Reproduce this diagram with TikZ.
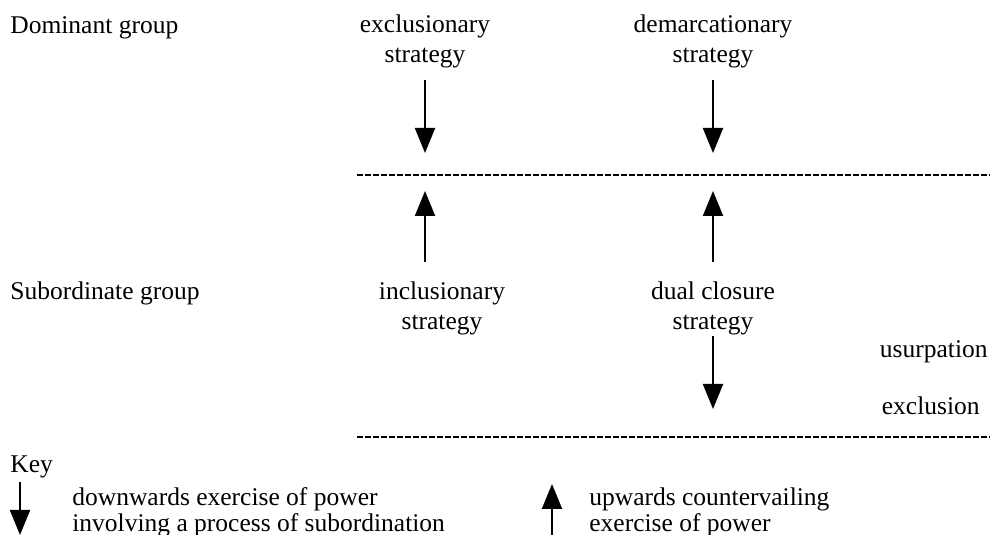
\documentclass[tikz,border=0pt]{standalone}
\usepackage{fontspec}
\setmainfont{Liberation Serif}
\usetikzlibrary{arrows.meta}
\begin{document}
\begin{tikzpicture}[x=0.5pt,y=-0.5pt,
  txt/.style={inner sep=0pt,font=\fontsize{12.75}{15}\selectfont},
  lbl/.style={txt,align=center,anchor=base},
  keytxt/.style={inner sep=0pt,font=\fontsize{12.75}{12.75}\selectfont,align=left,anchor=base west},
  powerline/.style={line width=1pt,-{Triangle[length=12.5pt,width=10pt]}},
  boundary/.style={line width=0.7pt,dash pattern=on 2.75pt off 1.25pt}]
\useasboundingbox (0,0) rectangle (993,535);

% group labels
\node[txt,anchor=base west] (dom) at (10,34) {Dominant group};
\node[txt,anchor=base west] (sub) at (10,300) {Subordinate group};

% strategy labels (anchored at the baseline of their last line)
\node[lbl] (excl) at (425,63) {exclusionary\\strategy};
\node[lbl] (dem) at (713,63) {demarcationary\\strategy};
\node[lbl] (incl) at (442,330) {inclusionary\\strategy};
\node[lbl] (dual) at (713,330) {dual closure\\strategy};
\node[txt,anchor=base east] (usurp) at (988,358) {usurpation};
\node[txt,anchor=base east] (exclu) at (980,415) {exclusion};

% boundary lines
\coordinate (b1l) at (357,175);
\coordinate (b1r) at (990,175);
\coordinate (b2l) at (357,437);
\coordinate (b2r) at (990,437);
\draw[boundary] (b1l) -- (b1r);
\draw[boundary] (b2l) -- (b2r);

% arrows
\coordinate (a1s) at (425,80);  \coordinate (a1e) at (425,153);
\coordinate (a2s) at (713,80);  \coordinate (a2e) at (713,153);
\coordinate (a3s) at (425,262); \coordinate (a3e) at (425,191);
\coordinate (a4s) at (713,262); \coordinate (a4e) at (713,191);
\coordinate (a5s) at (713,336); \coordinate (a5e) at (713,409);
\draw[powerline] (a1s) -- (a1e);
\draw[powerline] (a2s) -- (a2e);
\draw[powerline] (a3s) -- (a3e);
\draw[powerline] (a4s) -- (a4e);
\draw[powerline] (a5s) -- (a5e);

% key
\node[txt,anchor=base west] (key) at (10,473) {Key};
\coordinate (k1s) at (20,482); \coordinate (k1e) at (20,535);
\draw[powerline] (k1s) -- (k1e);
\node[keytxt] (kdown) at (72,531) {downwards exercise of power\\involving a process of subordination};
\coordinate (k2s) at (552,535); \coordinate (k2e) at (552,484);
\draw[powerline] (k2s) -- (k2e);
\node[keytxt] (kup) at (589,531) {upwards countervailing\\exercise of power};
\end{tikzpicture}
\end{document}
